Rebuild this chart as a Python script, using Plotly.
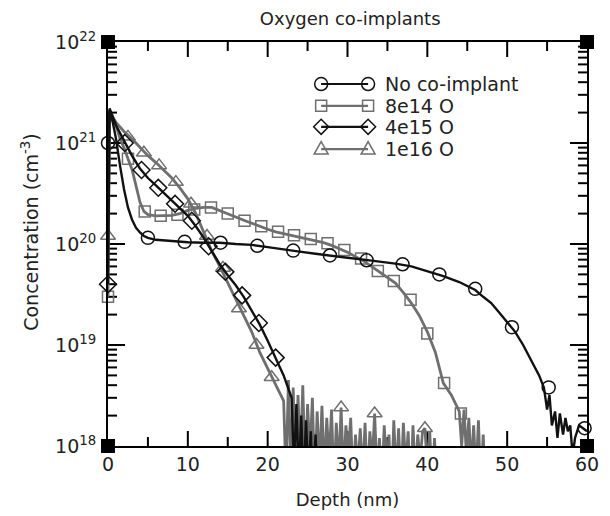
import math
import plotly.graph_objects as go

# ---------------- data ----------------
# No co-implant (black, circles)
none_x = [0, 0.2, 0.6, 1.0, 1.5, 2.0, 2.5, 3.0, 3.5, 4.0, 4.5, 5.0, 6, 8, 10, 12, 14, 16, 18, 20, 22, 24, 26, 28, 30,
          32, 34, 36, 38, 40, 42, 44, 46, 47, 48, 49, 50, 51, 52, 53, 54, 54.6, 55.0, 55.3, 55.6, 56.0, 56.3, 56.6,
          57.0, 57.3, 57.6, 57.9, 58.2, 58.5, 59.0, 59.5, 60]
none_y = [1.0e21, 2.1e21, 1.6e21, 1.1e21, 6e20, 3.5e20, 2.3e20, 1.75e20, 1.45e20, 1.3e20, 1.2e20, 1.15e20, 1.1e20,
          1.07e20, 1.04e20, 1.03e20, 1.03e20, 1.0e20, 9.8e19, 9.3e19, 8.9e19, 8.4e19, 8.0e19, 7.6e19, 7.3e19,
          7.0e19, 6.7e19, 6.4e19, 6.0e19, 5.4e19, 4.8e19, 4.2e19, 3.5e19, 3.0e19, 2.6e19, 2.1e19, 1.7e19, 1.35e19,
          1.0e19, 7e18, 5e18, 3.8e18, 2.3e18, 3.2e18, 1.6e18, 2.2e18, 1.2e18, 2.1e18,
          1.3e18, 1.9e18, 1.4e18, 1.6e18, 8e17, 1.2e18, 1.6e18, 1.5e18, 1.4e18]
none_mx = [0, 5.0, 9.6, 14.1, 18.7, 23.2, 27.8, 32.4, 36.9, 41.5, 46.0, 50.6, 55.2, 59.7]
none_my = [1.0e21, 1.15e20, 1.05e20, 1.03e20, 9.6e19, 8.6e19, 7.7e19, 6.9e19, 6.3e19, 5.0e19, 3.6e19, 1.5e19,
           3.8e18, 1.5e18]

# 8e14 O (gray, squares)
o814_x = [0, 0.2, 0.6, 1.0, 1.5, 2.0, 2.5, 3.0, 3.5, 4.0, 4.5, 5, 6, 7, 8, 9, 10, 11, 12, 13, 14, 15, 16, 17, 18,
          19, 20, 21, 22, 23, 24, 25, 26, 27, 28, 29, 30, 31, 32, 33, 34, 35, 36, 37, 38, 39, 40, 41, 42, 43, 44,
          44.3, 44.6, 44.9, 45.2, 45.5, 45.8, 46.1, 46.4, 46.7, 47.0, 47.3]
o814_y = [3e19, 2.1e21, 1.8e21, 1.5e21, 1.1e21, 9e20, 7e20, 5.5e20, 3.8e20, 2.6e20, 2.1e20, 1.95e20, 1.9e20, 1.9e20,
          1.92e20, 2.0e20, 2.15e20, 2.25e20, 2.3e20, 2.3e20, 2.15e20, 2.0e20, 1.85e20, 1.72e20, 1.6e20,
          1.5e20, 1.4e20, 1.32e20, 1.27e20, 1.22e20, 1.17e20, 1.12e20, 1.07e20, 1.03e20, 9.7e19, 9.0e19, 8.3e19,
          7.5e19, 6.8e19, 6.0e19, 5.3e19, 4.7e19, 4.1e19, 3.3e19, 2.6e19, 1.95e19, 1.35e19, 8.5e18, 4.2e18,
          3.2e18, 2.2e18, 1.0e18, 2.3e18, 8e17, 1.9e18, 6e17, 1.6e18, 5e17, 1.8e18, 4e17, 1.3e18, 3e17]
o814_mx = [0, 2.5, 4.6, 6.6, 8.7, 10.8, 12.9, 15.0, 17.1, 19.2, 21.3, 23.3, 25.4, 27.5, 29.6, 31.7, 33.8, 35.8,
           37.9, 40.0, 42.1, 44.2]
o814_my = [3e19, 7e20, 2.1e20, 1.9e20, 1.95e20, 2.2e20, 2.3e20, 2.0e20, 1.7e20, 1.5e20, 1.32e20, 1.22e20,
           1.12e20, 1.02e20, 8.7e19, 7.2e19, 5.4e19, 4.3e19, 2.8e19, 1.3e19, 4.2e18, 2.1e18]

# 4e15 O (black, diamonds)
o415_x = [0, 0.2, 1, 2, 3, 4, 5, 6, 7, 8, 9, 10, 11, 12, 13, 14, 15, 16, 17, 18, 19, 20, 21, 22, 23,
          23.3, 23.6, 23.9, 24.2, 24.5, 24.8, 25.1, 25.4, 25.7, 26.0, 26.3]
o415_y = [4e19, 2.2e21, 1.5e21, 1.05e21, 7.5e20, 5.6e20, 4.5e20, 3.8e20, 3.2e20, 2.7e20, 2.3e20, 1.9e20,
          1.5e20, 1.15e20, 8.5e19, 6.3e19, 4.9e19, 3.9e19, 3.0e19, 2.2e19, 1.6e19, 1.1e19, 7.5e18, 5e18, 3e18,
          6e17, 2.6e18, 5e17, 2e18, 4e17, 1.8e18, 5e17, 1.4e18, 4e17, 1.3e18, 3e17]
o415_mx = [0, 2.1, 4.2, 6.3, 8.4, 10.5, 12.6, 14.7, 16.8, 18.9, 21.0]
o415_my = [4e19, 1.0e21, 5.4e20, 3.6e20, 2.5e20, 1.7e20, 9.5e19, 5.3e19, 3.1e19, 1.65e19, 7.5e18]

# 1e16 O (gray, triangles)
o116_x = [0, 0.2, 1, 2, 3, 4, 5, 6, 7, 8, 9, 10, 11, 12, 13, 14, 15, 16, 17, 18, 19, 20, 21, 22,
          22.3, 22.6, 22.9, 23.2, 23.5, 23.8, 24.1, 24.4, 24.7, 25.0, 25.3, 25.6, 25.9, 26.2, 26.5, 26.8,
          27.1, 27.4, 27.7, 28.0, 28.3, 28.6, 28.9, 29.2, 29.5, 29.8, 30.1, 30.4, 30.7, 31.0, 31.3, 31.6,
          31.9, 32.2, 32.5, 32.8, 33.1, 33.4, 33.7, 34.0, 34.3, 34.6, 34.9, 35.2, 35.5, 35.8, 36.1, 36.4,
          36.7, 37.0, 37.3, 37.6, 37.9, 38.2, 38.5, 38.8, 39.1, 39.4, 39.7, 40.0, 40.3, 40.6, 40.9, 41.2]
o116_y = [1.2e20, 2.0e21, 1.6e21, 1.3e21, 1.1e21, 9e20, 7.5e20, 6.4e20, 5.4e20, 4.5e20, 3.6e20, 2.8e20,
          2.0e20, 1.3e20, 8.5e19, 6e19, 4.1e19, 2.8e19, 1.95e19, 1.35e19, 8.5e18, 5.8e18, 4e18, 2.8e18,
          5e17, 4.5e18, 6e17, 3.8e18, 4e17, 3.2e18, 7e17, 4e18, 5e17, 2.6e18, 8e17, 3e18, 4e17, 2.2e18,
          6e17, 2.5e18, 5e17, 1.9e18, 7e17, 2.3e18, 4e17, 1.7e18, 6e17, 2.4e18, 5e17, 1.6e18, 8e17, 1.9e18,
          4e17, 1.3e18, 6e17, 1.5e18, 5e17, 1.7e18, 4e17, 1.4e18, 7e17, 2.1e18, 5e17, 1.2e18, 4e17, 1.6e18,
          6e17, 1.3e18, 3e17, 1.8e18, 5e17, 1.5e18, 4e17, 1.7e18, 6e17, 1.4e18, 3e17, 1.6e18, 5e17, 1.3e18,
          7e17, 1.4e18, 1.5e18, 6e17, 1.4e18, 4e17, 1.2e18, 3e17]
o116_mx = [0, 2.5, 4.5, 6.4, 8.5, 10.4, 12.4, 14.4, 16.4, 18.6, 20.5, 29.2, 33.4, 39.7]
o116_my = [1.2e20, 1.15e21, 8e20, 6e20, 4.1e20, 2.5e20, 1.2e20, 5.8e19, 2.3e19, 1.0e19, 4.8e18, 2.4e18,
           2.1e18, 1.5e18]

series_names = ["No co-implant", "8e14 O", "4e15 O", "1e16 O"]
x_ticks = [0, 10, 20, 30, 40, 50, 60]
y_ticks = [1e18, 1e19, 1e20, 1e21, 1e22]
y_tick_text = ["10<sup>18</sup>", "10<sup>19</sup>", "10<sup>20</sup>", "10<sup>21</sup>", "10<sup>22</sup>"]

# ---------------- style ----------------
BLACK = "#111111"
GRAY = "#6f6f6f"
FONT = "DejaVu Sans"
TXT = "#222222"
X_MIN, X_MAX = 0.0, 60.0
Y_LOG_MIN, Y_LOG_MAX = 18.0, 22.0
PLOT_W, PLOT_H = 479.0, 404.0   # plot-area size in px

series = [
    (series_names[0], none_x, none_y, none_mx, none_my, BLACK, "circle-open", 13, 2.4),
    (series_names[1], o814_x, o814_y, o814_mx, o814_my, GRAY, "square-open", 11, 2.8),
    (series_names[2], o415_x, o415_y, o415_mx, o415_my, BLACK, "diamond-open", 13, 2.4),
    (series_names[3], o116_x, o116_y, o116_mx, o116_my, GRAY, "triangle-up-open", 13, 2.8),
]

fig = go.Figure()

# ---------------- inside tick marks on all four sides (one line trace) ----------------
tx, ty = [], []
dx_per_px = (X_MAX - X_MIN) / PLOT_W
dlog_per_px = (Y_LOG_MAX - Y_LOG_MIN) / PLOT_H
y_bot, y_top = 10.0 ** Y_LOG_MIN, 10.0 ** Y_LOG_MAX
for k in range(1, 12):
    v = X_MIN + 5.0 * k
    L = 15 if k % 2 == 0 else 9
    tx += [v, v, None, v, v, None]
    ty += [y_bot, 10.0 ** (Y_LOG_MIN + L * dlog_per_px), None,
           y_top, 10.0 ** (Y_LOG_MAX - L * dlog_per_px), None]
for e in range(int(Y_LOG_MIN), int(Y_LOG_MAX)):
    for m in range(1, 10):
        if e == int(Y_LOG_MIN) and m == 1:
            continue
        L = 17 if m == 1 else 9
        yv = float(m) * 10.0 ** e
        tx += [X_MIN, X_MIN + L * dx_per_px, None, X_MAX, X_MAX - L * dx_per_px, None]
        ty += [yv, yv, None, yv, yv, None]
fig.add_trace(go.Scatter(x=tx, y=ty, mode="lines", line=dict(color="black", width=2),
                         showlegend=False, hoverinfo="skip", connectgaps=False))

draw_order = [3, 1, 2, 0]
for i in draw_order:
    name, lx, ly, mx, my, col, sym, msz, lw = series[i]
    fig.add_trace(go.Scatter(x=lx, y=ly, mode="lines", line=dict(color=col, width=lw),
                             showlegend=False, hoverinfo="skip"))
    fig.add_trace(go.Scatter(x=mx, y=my, mode="markers", name=name,
                             marker=dict(symbol=sym, size=msz, color=col, line=dict(width=1.5, color=col)),
                             showlegend=False, cliponaxis=False))

# ---------------- custom legend (paper coords == plot area) ----------------
leg_x0, leg_x1, leg_tx = 0.445, 0.543, 0.574
leg_rows = [0.896, 0.842, 0.79, 0.735]
marker_paths = {
    "square-open": "M -5.5 -5.5 L 5.5 -5.5 L 5.5 5.5 L -5.5 5.5 Z",
    "diamond-open": "M -7.5 0 L 0 7.5 L 7.5 0 L 0 -7.5 Z",
    "triangle-up-open": "M -7 -5 L 7 -5 L 0 7.5 Z",
}
shapes = []
for k, (name, lx, ly, mx, my, col, sym, msz, lw) in enumerate(series):
    yy = leg_rows[k]
    shapes.append(dict(type="line", xref="paper", yref="paper", x0=leg_x0, x1=leg_x1, y0=yy, y1=yy,
                       line=dict(color=col, width=2.2)))
    for xx in (leg_x0, leg_x1):
        common = dict(xref="paper", yref="paper", xsizemode="pixel", ysizemode="pixel",
                      xanchor=xx, yanchor=yy, line=dict(color=col, width=1.5), fillcolor="rgba(0,0,0,0)")
        if sym == "circle-open":
            shapes.append(dict(type="circle", x0=-6.5, x1=6.5, y0=-6.5, y1=6.5, **common))
        else:
            shapes.append(dict(type="path", path=marker_paths[sym], **common))
    fig.add_annotation(x=leg_tx, y=yy, xref="paper", yref="paper", text=name, showarrow=False,
                       xanchor="left", yanchor="middle", font=dict(family=FONT, size=19, color=TXT))

# black corner squares
for cx in (0, 1):
    for cy in (0, 1):
        shapes.append(dict(type="rect", xref="paper", yref="paper", xsizemode="pixel", ysizemode="pixel",
                           xanchor=cx, yanchor=cy, x0=-7, x1=7, y0=-7, y1=7,
                           fillcolor="black", line=dict(color="black", width=0)))

# y-axis title as a rotated annotation
fig.add_annotation(text="Concentration (cm<sup>-3</sup>)", xref="paper", yref="paper", x=-0.163, y=0.53,
                   textangle=-90, showarrow=False, xanchor="center", yanchor="middle",
                   font=dict(family=FONT, size=19, color=TXT))

fig.update_layout(
    width=610, height=516,
    margin=dict(l=100, r=31, t=34, b=78, autoexpand=False),
    paper_bgcolor="white", plot_bgcolor="white",
    font=dict(family=FONT, size=19, color=TXT),
    shapes=shapes,
    title=dict(text="Oxygen co-implants", x=0.561, xanchor="center", y=0.98, yanchor="middle",
               font=dict(family=FONT, size=18, color=TXT)),
    xaxis=dict(range=[X_MIN, X_MAX], tickvals=x_ticks, ticks="", showline=True, linecolor="black", linewidth=2,
               mirror=True, showgrid=False, zeroline=False, automargin=False,
               title=dict(text="Depth (nm)", standoff=20, font=dict(size=18)),
               tickfont=dict(size=19)),
    yaxis=dict(type="log", range=[Y_LOG_MIN, Y_LOG_MAX], tickvals=y_ticks, ticktext=y_tick_text, ticks="",
               showline=True, linecolor="black", linewidth=2, mirror=True, showgrid=False, zeroline=False,
               automargin=False, ticklabelstandoff=6, tickfont=dict(size=19)),
)

fig.write_html("out.html")
